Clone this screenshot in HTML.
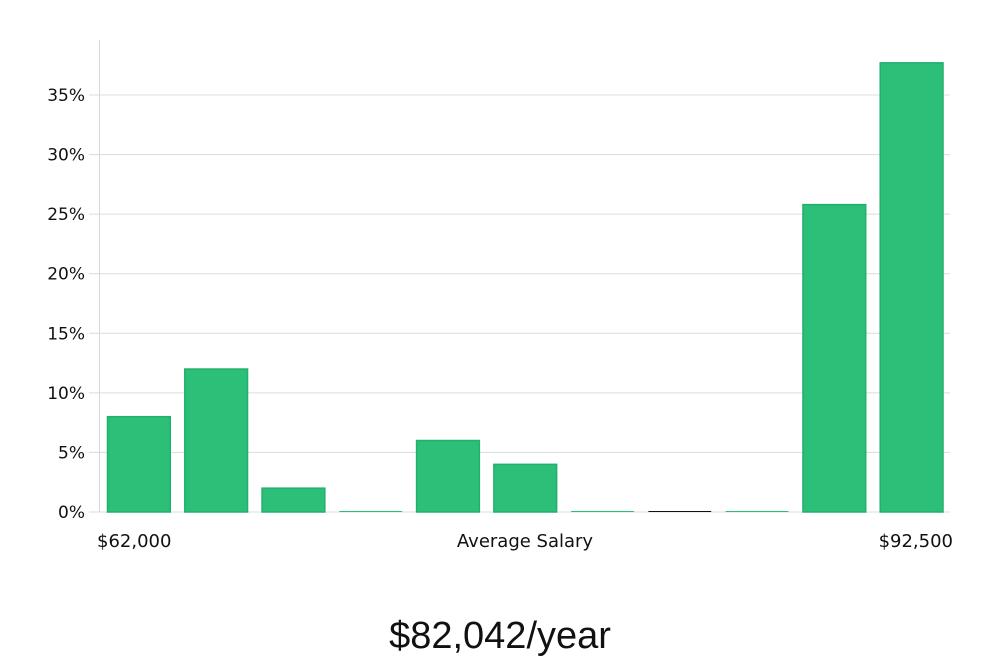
<!DOCTYPE html>
<html><head><meta charset="utf-8"><style>
body{margin:0;background:#fff;width:1000px;height:660px;overflow:hidden}
svg{display:block}
text{font-family:"DejaVu Sans","Liberation Sans",sans-serif;fill:#111}
</style></head><body>
<svg id="chart" width="1000" height="660" viewBox="0 0 1000 660" xmlns="http://www.w3.org/2000/svg"></svg>
<script>
const categories = ["b1","b2","b3","b4","b5","b6","b7","b8","b9","b10","b11"];
const values = [8, 12, 2, 0, 6, 4, 0, 0, 0, 25.8, 37.7];
const yTicks = [0, 5, 10, 15, 20, 25, 30, 35];
const yTickLabels = ["0%","5%","10%","15%","20%","25%","30%","35%"];
const xLabels = ["$62,000", "Average Salary", "$92,500"];
const headline = "$82,042/year";

const NS = "http://www.w3.org/2000/svg";
const svg = document.getElementById("chart");
const X0 = 100, X1 = 950, Y0 = 512, PXPER = (512 - 95) / 35;
const y = v => Y0 - v * PXPER;
const band = (X1 - X0) / categories.length;
const x = i => X0 + i * band;
function mk(tag, attrs, parent) {
  const e = document.createElementNS(NS, tag);
  for (const k in attrs) e.setAttribute(k, attrs[k]);
  (parent || svg).appendChild(e);
  return e;
}
yTicks.forEach((t, i) => {
  const g = mk("line", {x1: 89, x2: X1, y1: y(t), y2: y(t), stroke: "#dcdcdc", "stroke-width": 1});
  
  
  const tx = mk("text", {x: 85, y: y(t) + 6, "text-anchor": "end", "font-size": 17});
  tx.textContent = yTickLabels[i];
  
  
});
const ax = mk("line", {x1: X0 - 0.5, x2: X0 - 0.5, y1: 40, y2: Y0, stroke: "#d8d8d8", "stroke-width": 1});


values.forEach((v, i) => {
  const bx = x(i) + 7.5, bw = band - 14.5;
  const h = Math.max(v * PXPER, 1);
  const r = mk("rect", {x: bx, y: Y0 - h, width: bw, height: h, fill: i === 7 ? "#111" : "#2bbf78", stroke: i === 7 ? "#111" : "#22b06d", "stroke-width": v > 0 ? 1.5 : 0});
  
  
});
const xl = [[97, "start"], [525, "middle"], [953, "end"]];
xLabels.forEach((l, i) => {
  const t = mk("text", {x: xl[i][0], y: 547, "text-anchor": xl[i][1], "font-size": 18});
  t.textContent = l;
  
  
});
const h = mk("text", {x: 500, y: 648, "text-anchor": "middle", "font-size": 38, style: "font-family:'Liberation Sans',sans-serif;font-weight:300", fill: "#222"});
h.textContent = headline;


</script>
</body></html>
